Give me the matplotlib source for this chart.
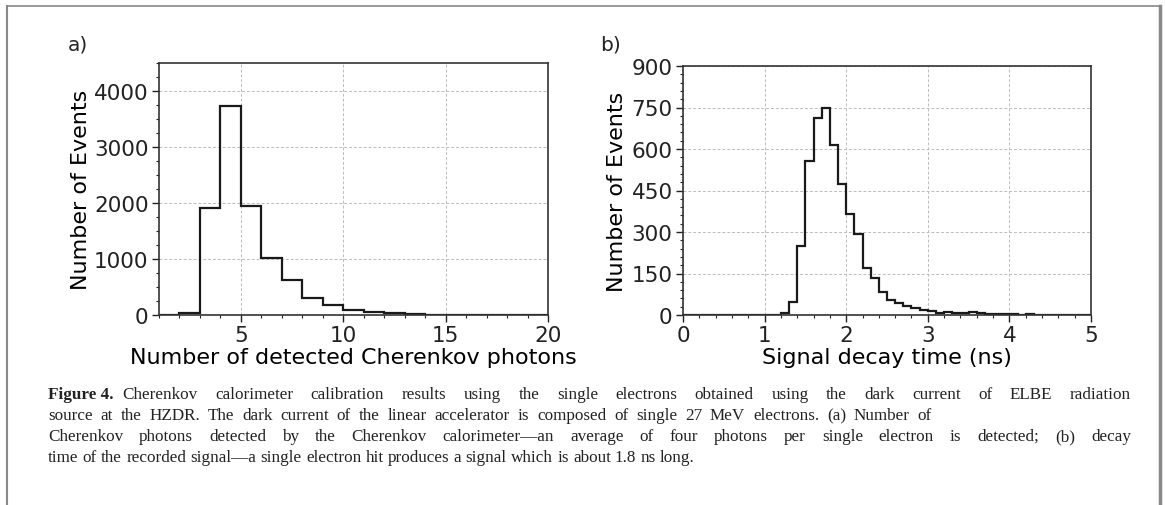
import matplotlib
matplotlib.use("Agg")
import matplotlib.pyplot as plt
import numpy as np
from matplotlib.ticker import MultipleLocator
from matplotlib.lines import Line2D

# ---- data ----
a_edges = list(range(1, 21))
a_counts = [0, 35, 1905, 3730, 1943, 1015, 618, 305, 182, 95, 58, 28, 14, 7, 5, 4, 3, 2, 2]

b_edges = [round(0.1 * i, 1) for i in range(51)]
b_counts = [0] * 12 + [7, 48, 250, 555, 713, 747, 616, 475, 364, 292,
                       171, 135, 82, 56, 44, 32, 26, 19, 14, 9,
                       11, 9, 7, 11, 9, 5, 3, 2, 2, 1,
                       2, 1, 1, 1, 1, 1, 0, 1]

a_xticks = [5, 10, 15, 20]
a_yticks = [0, 1000, 2000, 3000, 4000]
b_xticks = [0, 1, 2, 3, 4, 5]
b_yticks = [0, 150, 300, 450, 600, 750, 900]

caption_label = 'Figure 4.'
caption_lines = [
    'Cherenkov calorimeter calibration results using the single electrons obtained using the dark current of ELBE radiation',
    'source at the HZDR. The dark current of the linear accelerator is composed of single 27 MeV electrons. (a) Number of',
    'Cherenkov photons detected by the Cherenkov calorimeter\u2014an average of four photons per single electron is detected; (b) decay',
    'time of the recorded signal\u2014a single electron hit produces a signal which is about 1.8 ns long.',
]

W, H = 1165, 506
fig = plt.figure(figsize=(W / 100, H / 100), dpi=100)

def px_axes(l, r, t, b):
    return fig.add_axes([l / W, 1 - b / H, (r - l) / W, (b - t) / H])

axa = px_axes(159, 548, 64, 316)
axb = px_axes(683, 1091, 67, 316)

FS = 15.5
for ax in (axa, axb):
    ax.grid(True, which='major', linestyle=(0, (3, 2)), color='#bbbbbb', linewidth=0.7)
    ax.set_axisbelow(True)
    ax.tick_params(which='major', direction='out', length=5, width=1.0, labelsize=FS,
                   top=False, right=False, colors='#222222', pad=2.5)
    ax.tick_params(which='minor', direction='out', length=2.5, width=0.8,
                   top=False, right=False, colors='#222222')
    for s in ax.spines.values():
        s.set_color('#333333')
        s.set_linewidth(1.2)

axa.stairs(a_counts, a_edges, color='#1a1a1a', linewidth=1.6, baseline=0)
axa.set_xlim(1, 20)
axa.set_ylim(0, 4500)
axa.set_xticks(a_xticks)
axa.set_yticks(a_yticks)
axa.xaxis.set_minor_locator(MultipleLocator(1))
axa.yaxis.set_minor_locator(MultipleLocator(250))
axa.set_xlabel('Number of detected Cherenkov photons', fontsize=FS + 0.5, labelpad=1)
axa.set_ylabel('Number of Events', fontsize=FS + 0.5, labelpad=2)

axb.stairs(b_counts, b_edges, color='#1a1a1a', linewidth=1.6, baseline=0)
axb.set_xlim(0, 5)
axb.set_ylim(0, 900)
axb.set_xticks(b_xticks)
axb.set_yticks(b_yticks)
axb.xaxis.set_minor_locator(MultipleLocator(0.2))
axb.yaxis.set_minor_locator(MultipleLocator(30))
axb.set_xlabel('Signal decay time (ns)', fontsize=FS + 0.5, labelpad=1)
axb.set_ylabel('Number of Events', fontsize=FS + 0.5, labelpad=3)

fig.text(68 / W, 1 - 45 / H, 'a)', fontsize=FS - 1, ha='left', va='center', color='#222222')
fig.text(600 / W, 1 - 45 / H, 'b)', fontsize=FS - 1, ha='left', va='center', color='#222222')

# frame
fig.add_artist(Line2D([7 / W, 7 / W], [0, 1 - 7 / H], transform=fig.transFigure, color='#888888', lw=1.5))
fig.add_artist(Line2D([7 / W, 1160 / W], [1 - 7 / H, 1 - 7 / H], transform=fig.transFigure, color='#888888', lw=1.2))
fig.add_artist(Line2D([1160 / W, 1160 / W], [0, 1 - 7 / H], transform=fig.transFigure, color='#888888', lw=2.5))

# caption (words spread so that each line spans the same width as in the reference)
cap_font = 'Liberation Serif'
CFS = 12.3
x0 = 48
ys = [399, 420, 441, 462]
line_ends = [1131, 932, 1131, None]

fig.canvas.draw()
r = fig.canvas.get_renderer()

def word_width(s, bold=False):
    t = fig.text(0, 0, s, fontsize=CFS, family=cap_font, weight='bold' if bold else 'normal')
    w = t.get_window_extent(r).width
    t.remove()
    return w

space_w = word_width('a b') - word_width('ab')

def place_line(words, xstart, y, xend, prefix=None):
    items = []
    if prefix is not None:
        items.append((prefix, True))
    items += [(w, False) for w in words]
    widths = [word_width(s, b) for s, b in items]
    gaps = [space_w] * (len(items) - 1)
    if prefix is not None:
        gaps[0] = 9
    if xend is not None and len(items) > 1:
        extra = (xend - xstart) - sum(widths) - sum(gaps)
        n = len(gaps) - (1 if prefix is not None else 0)
        add = extra / n
        gaps = [g + (add if (i > 0 or prefix is None) else 0) for i, g in enumerate(gaps)]
    x = xstart
    for i, ((s, b), w) in enumerate(zip(items, widths)):
        fig.text(x / W, 1 - y / H, s, fontsize=CFS, family=cap_font,
                 weight='bold' if b else 'normal', ha='left', va='baseline', color='#222222')
        if i < len(gaps):
            x += w + gaps[i]

for k, (line, y, xe) in enumerate(zip(caption_lines, ys, line_ends)):
    place_line(line.split(' '), x0, y, xe, prefix=caption_label if k == 0 else None)

fig.savefig('out.png', dpi=100)
